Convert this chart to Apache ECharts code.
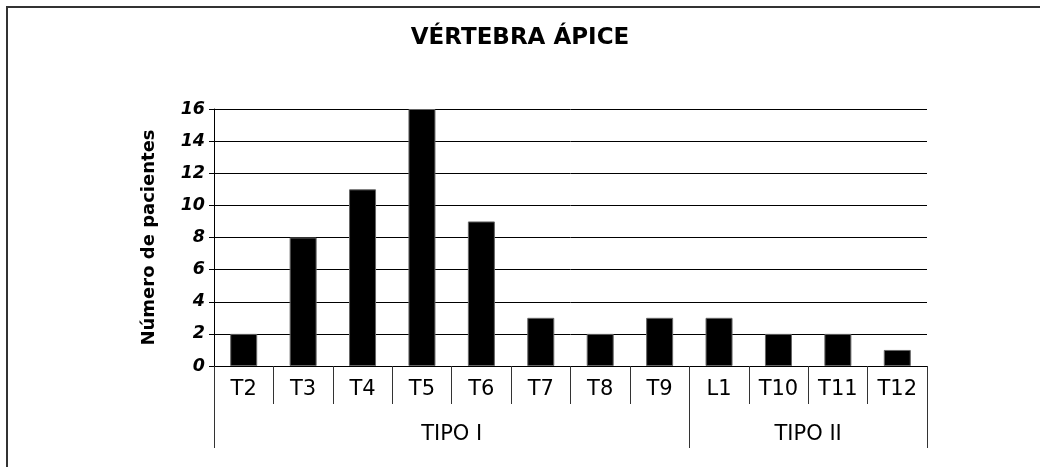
<!DOCTYPE html>
<html>
<head>
<meta charset="utf-8">
<script src="https://cdn.jsdelivr.net/npm/echarts@6/dist/echarts.min.js"></script>
<style>
html,body{margin:0;padding:0;background:#fff;}
#c{position:absolute;left:0;top:0;width:1040px;height:467px;}
#frame{position:absolute;left:6px;top:6px;width:1040px;height:470px;border-left:2px solid #333;border-top:2px solid #333;pointer-events:none;}
</style>
</head>
<body>
<div id="frame"></div>
<div id="c"></div>
<script>
const categories = ['T2','T3','T4','T5','T6','T7','T8','T9','L1','T10','T11','T12'];
const values = [2, 8, 11, 16, 9, 3, 2, 3, 3, 2, 2, 1];
const groupNames = ['TIPO I', 'TIPO II'];
const groupStarts = [0, 8];
const groupEnds = [8, 12];
const yTicks = [0, 2, 4, 6, 8, 10, 12, 14, 16];

const FONT = 'DejaVu Sans, Liberation Sans, sans-serif';
const groupMids = groupStarts.map((s, i) => (s + groupEnds[i]) / 2);
const groupBounds = Array.from(new Set(groupStarts.concat(groupEnds)));

const chart = echarts.init(document.getElementById('c'), null, {renderer: 'canvas'});
chart.setOption({
  animation: false,
  backgroundColor: 'transparent',
  title: {
    text: 'VÉRTEBRA ÁPICE',
    left: 'center',
    top: 22,
    textStyle: {fontFamily: FONT, fontSize: 23, fontWeight: 'bold', color: '#000'}
  },
  grid: {left: 214, right: 113, top: 109, bottom: 101, containLabel: false},
  xAxis: [
    {
      type: 'category',
      data: categories,
      boundaryGap: true,
      position: 'bottom',
      axisLine: {show: true, lineStyle: {color: '#000', width: 1}},
      axisTick: {show: true, length: 38, lineStyle: {color: '#333', width: 1}},
      axisLabel: {margin: 13, fontFamily: FONT, fontSize: 21, color: '#000', interval: 0}
    },
    {
      type: 'value',
      min: 0,
      max: categories.length,
      position: 'bottom',
      axisLine: {show: false},
      splitLine: {show: false},
      axisTick: {show: true, length: 82, customValues: groupBounds, lineStyle: {color: '#333', width: 1}},
      axisLabel: {
        show: true,
        customValues: groupMids,
        margin: 58,
        fontFamily: FONT, fontSize: 21, color: '#000',
        formatter: function (v) {
          const i = groupMids.indexOf(v);
          return i >= 0 ? groupNames[i] : '';
        }
      }
    }
  ],
  yAxis: {
    type: 'value',
    min: yTicks[0],
    max: yTicks[yTicks.length - 1],
    interval: 2,
    name: 'Número de pacientes',
    nameLocation: 'middle',
    nameGap: 56,
    nameRotate: 90,
    nameTextStyle: {fontFamily: FONT, fontSize: 18, fontWeight: 'bold', color: '#000'},
    axisLine: {show: true, lineStyle: {color: '#000', width: 1}},
    axisTick: {show: true, length: 5, lineStyle: {color: '#000'}},
    axisLabel: {margin: 9, fontFamily: FONT, fontSize: 17.5, fontWeight: 'bold', fontStyle: 'italic', color: '#000'},
    splitLine: {show: true, lineStyle: {color: '#000', width: 1}}
  },
  series: [{
    type: 'bar',
    xAxisIndex: 0,
    data: values,
    barWidth: 27,
    itemStyle: {color: '#000', borderColor: '#666', borderWidth: 1},
    emphasis: {disabled: true}
  }]
});
</script>
</body>
</html>
